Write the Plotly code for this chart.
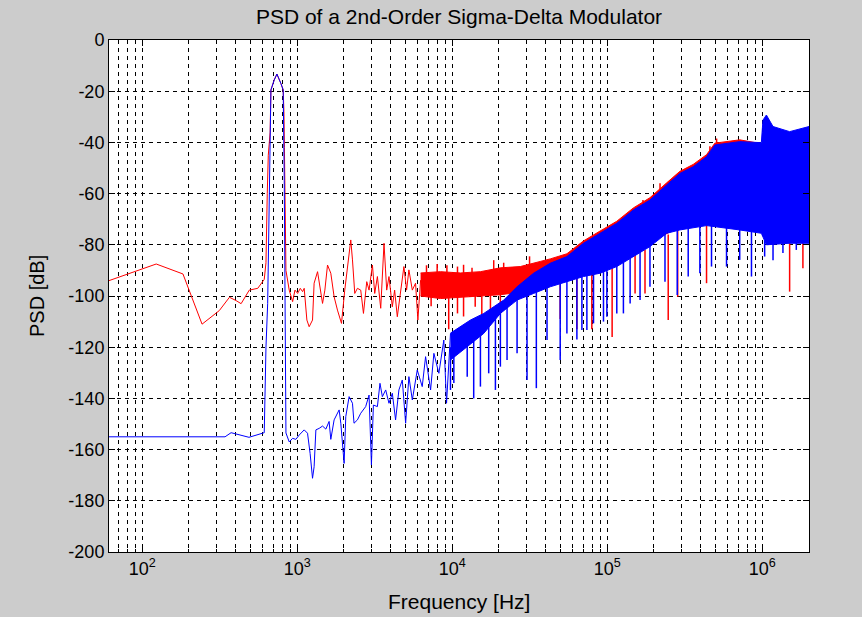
import math
import plotly.graph_objects as go

# frequency axis limits [Hz]
f_min, f_max = 61, 2e6

# red trace: low band, tone and sparse noise
red_f = [61, 93.8, 123, 183, 205, 243, 314, 365, 403, 434, 490, 556, 612, 628, 640, 650, 668, 673, 676, 710,
         739, 784, 811, 820, 824, 826, 845, 887, 933, 966, 1005, 1045, 1082, 1108, 1153, 1193, 1254, 1284, 1351, 1404,
         1455, 1506, 1567, 1645, 1728, 1816, 1928, 2024, 2107, 2213, 2270, 2348, 2443, 2566, 2672, 2806, 2904, 3053, 3159, 3287,
         3453, 3626, 3773, 3903, 4102, 4246, 4418, 4592, 4873, 5070, 5248, 5521, 5794, 5998, 6243]
red_db = [-94, -90.1, -87.5, -91.4, -99, -111, -105.7, -100.5, -101.8, -103, -97.7, -97, -93.5, -87, -60, -45, -36, -28, -19.5, -15.6,
          -13.3, -17, -19.5, -28, -32.4, -42, -90, -97.7, -102.2, -97.7, -99, -97, -98.3, -97, -109.4, -112, -109.4, -95, -90.5, -97.7,
          -102.9, -97.7, -87.9, -91.1, -100.3, -105.5, -110.7, -97.7, -88.5, -78.1, -85.9, -99, -97, -97.7, -106.8, -94.4, -97.7, -87.9, -99, -92.4,
          -104.8, -79.4, -97.7, -92.4, -104.2, -97.7, -108.1, -100.3, -88.5, -97.7, -89.8, -97.7, -95, -109.4, -93.8]

# red dense noise: upper / lower edges
red_hi_f = [6243, 8395, 11290, 15180, 20420, 27460, 36940, 42850, 54860, 70140, 89890, 115100, 147200, 188400, 241500,
            293800, 358100, 436600, 493900, 587500, 714600, 985500, 2000000]
red_hi_db = [-91, -90.5, -91, -90.5, -89, -88.5, -86.5, -85.5, -83.5, -78.5, -74.6, -70.8, -65.6, -61.6, -55.8,
             -51.3, -48.6, -44.8, -40.3, -39.6, -39, -40.5, -40.5]
red_lo_f = [6243, 8395, 11290, 15180, 20420, 27460, 36940, 54860, 70140, 89890, 147200, 188400, 293800, 436600, 714600, 985500, 2000000]
red_lo_db = [-100, -101, -100.5, -100, -99.5, -98.5, -97, -93, -91, -89, -83, -79, -73, -70, -72, -74, -78]

# red spikes: frequency, start, tip
red_spike_f = [6817, 7985, 9230, 10800, 11820, 13400, 18500, 21450, 31500, 169800, 218800, 459000, 507000,
               7300, 9480, 10800, 11820, 14050, 15500, 17620, 20420, 49660, 63630, 79430, 107400, 151000, 175000,
               247100, 284400, 436600, 1500000, 1827000]
red_spike_base = [-93, -93, -93, -93, -93, -92, -91, -90, -88, -66, -59, -45, -42,
                  -98, -98, -98, -98, -98, -98, -97, -97, -95, -92, -90, -88, -84, -82,
                  -76, -74, -72, -78, -78]
red_spike_tip = [-88, -87.5, -88, -88.5, -87.8, -89, -86, -87, -84.5, -62.5, -56, -41.5, -38.5,
                 -104, -113, -106.8, -108, -104.2, -108, -108, -106.8, -109, -113, -113, -116, -99, -99,
                 -109.4, -100.3, -95, -98.3, -89.2]

# blue trace: floor, tone and sparse noise
blue_f = [61, 342, 374, 488, 612, 628, 644, 660, 676, 710, 739, 784, 811, 824, 836, 845, 887, 933, 979, 1029,
          1108, 1164, 1210, 1254, 1284, 1318, 1384, 1455, 1528, 1604, 1645, 1728, 1862, 1909, 2005, 2055, 2159, 2270, 2323, 2443,
          2566, 2762, 2904, 3008, 3097, 3287, 3415, 3538, 3718, 3903, 4102, 4306, 4525, 4758, 4999, 5248, 5521, 5943, 6397, 6724,
          7244, 7607, 8190, 8817, 9180, 9732]
blue_db = [-155, -155, -153.4, -155.2, -153.4, -120, -103, -55, -19.5, -15.6, -13.3, -17, -19.5, -55, -100, -153.5, -157, -155.6, -156, -154.3,
           -152.3, -153.6, -161.5, -171.2, -166.7, -152.3, -151.7, -150.8, -152, -149, -156, -148.4, -144.5, -149.7, -165.4, -147.1, -139.3, -141.9, -149.7, -148.4,
           -145.8, -143.2, -138.7, -166, -142.6, -143.2, -134.1, -139.3, -136.7, -141.9, -138, -148.4, -136.7, -132.8, -149.7, -131.5, -140.6, -128.9, -135.4, -123.7,
           -136.7, -122.4, -130.2, -117.2, -141.9, -114.6]

# blue dense noise: upper / lower edges
blue_hi_f = [9732, 11290, 13090, 15960, 18500, 21450, 26170, 33440, 42850, 54860, 70140, 89890, 115100, 147200, 188400,
             241500, 293800, 358100, 436600, 493900, 587500, 714600, 985500, 1009000, 1062000, 1172000, 1500000, 2000000]
blue_hi_db = [-114.5, -112, -109.4, -106.8, -104.2, -101.6, -96.4, -91.1, -87.2, -84.6, -79.4, -75.5, -71.6, -66.4, -62.5,
              -56.6, -52.1, -49.5, -45.6, -41, -40.4, -39.7, -40.1, -31.3, -29.3, -33.8, -35.8, -33.8]
blue_lo_f = [9732, 12480, 15960, 20420, 26170, 33440, 42850, 54860, 70140, 89890, 115100, 147200, 188400, 241500,
             293800, 436600, 714600, 985500, 1062000, 1500000, 2000000]
blue_lo_db = [-125, -119.8, -114.6, -106.8, -101.6, -99, -96.4, -94.4, -92.4, -91.1, -88.5, -84.6, -80.7, -75.5,
              -74.2, -72.5, -74.2, -75.5, -80, -79.4, -79.4]

# blue downward spikes
blue_spike_f = [9732, 10230, 12480, 13740, 15180, 17170, 18970, 20420, 22550, 26170, 30340, 34840, 40830, 49660, 54860,
                63630, 68550, 73810, 81470, 94460, 99310, 115100, 127000, 140300, 162600, 188400, 235500, 282500,
                332500, 395400, 470000, 587500, 714600, 851000, 1035000, 1172000, 1358000, 1656000]
blue_spike_base = [-120, -122, -117, -115, -113, -110, -108, -105, -102, -99, -98, -97, -95, -94, -92,
                   -90, -90, -90, -89, -88, -88, -86, -85, -83, -81, -79, -75, -73,
                   -72, -70, -70, -72, -73, -74, -78, -78, -78, -78]
blue_spike_tip = [-136.7, -134, -131.5, -140, -135.4, -130.2, -136.7, -127.6, -125, -122.4, -132.8, -136, -117.2, -125, -114.6,
                  -117, -113.3, -113.3, -110.7, -110, -108.1, -106.8, -106.8, -102.9, -101.6, -96.4, -94.4, -99.6,
                  -92.4, -91.1, -88.5, -88.5, -85.9, -92.4, -84.6, -86, -83.2, -82]

x_ticks = [1e2, 1e3, 1e4, 1e5, 1e6]
x_ticktext = ['10<sup>2</sup>', '10<sup>3</sup>', '10<sup>4</sup>', '10<sup>5</sup>', '10<sup>6</sup>']
y_ticks = list(range(-200, 1, 20))

RED = 'rgb(255,0,0)'
BLUE = 'rgb(0,0,255)'
FONT = 'Liberation Sans, Arial, sans-serif'


def band(f_hi, db_hi, f_lo, db_lo, color):
    return go.Scatter(x=f_hi + f_lo[::-1], y=db_hi + db_lo[::-1], mode='lines', fill='toself',
                      fillcolor=color, line=dict(color=color, width=1), showlegend=False, hoverinfo='skip')


def spikes(f, base, tip, color):
    xs, ys = [], []
    for i in range(len(f)):
        xs += [f[i], f[i], None]
        ys += [base[i], tip[i], None]
    return go.Scatter(x=xs, y=ys, mode='lines', line=dict(color=color, width=1.5), showlegend=False)


traces = [
    go.Scatter(x=red_f, y=red_db, mode='lines', line=dict(color=RED, width=1), showlegend=False),
    band(red_hi_f, red_hi_db, red_lo_f, red_lo_db, RED),
    spikes(red_spike_f, red_spike_base, red_spike_tip, RED),
    go.Scatter(x=blue_f, y=blue_db, mode='lines', line=dict(color=BLUE, width=1), showlegend=False),
    band(blue_hi_f, blue_hi_db, blue_lo_f, blue_lo_db, BLUE),
    spikes(blue_spike_f, blue_spike_base, blue_spike_tip, BLUE),
]

minor_vals = [m * 10 ** e for e in range(1, 7) for m in range(2, 10) if f_min <= m * 10 ** e <= f_max]
grid = dict(showgrid=True, gridcolor='black', gridwidth=1, griddash='4px,4px')

layout = go.Layout(
    width=862, height=617,
    paper_bgcolor='#cccccc', plot_bgcolor='white',
    margin=dict(l=109, r=53, t=40, b=65),
    font=dict(family=FONT, size=18, color='black'),
    title=dict(text='PSD of a 2nd-Order Sigma-Delta Modulator', x=0.5, xref='paper',
               y=1 - 17 / 617, yref='container', yanchor='middle', font=dict(size=21)),
    xaxis=dict(type='log', range=[math.log10(f_min), math.log10(f_max)],
               tickvals=x_ticks, ticktext=x_ticktext, ticks='inside', ticklen=6, tickcolor='black',
               showline=True, linecolor='black', linewidth=1, mirror='ticks', zeroline=False,
               minor=dict(tickvals=minor_vals, ticks='inside', ticklen=3, tickcolor='black', **grid),
               **grid),
    yaxis=dict(range=[-200, 0], tickvals=y_ticks, ticktext=[str(v) for v in y_ticks],
               ticks='inside', ticklen=6, tickcolor='black',
               showline=True, linecolor='black', linewidth=1, mirror='ticks', zeroline=False,
               **grid),
    annotations=[
        dict(text='Frequency [Hz]', x=0.5, y=-(601 - 552) / 512, xref='paper', yref='paper',
             showarrow=False, xanchor='center', yanchor='middle', font=dict(size=21)),
        dict(text='PSD [dB]', x=(37 - 109) / 700, y=0.5, xref='paper', yref='paper', textangle=-90,
             showarrow=False, xanchor='center', yanchor='middle', font=dict(size=20)),
    ],
)

fig = go.Figure(data=traces, layout=layout)
fig.write_html("out.html", config={'displayModeBar': False},
               post_script="document.body.style.margin='0';document.body.style.background='#cccccc';")
